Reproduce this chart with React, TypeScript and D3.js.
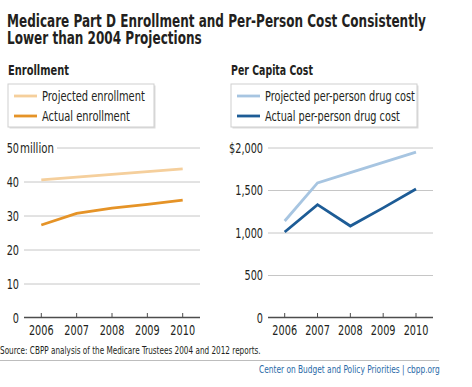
import { useLayoutEffect, useRef, useState } from "react";
import * as d3 from "d3";

const years = [2006, 2007, 2008, 2009, 2010];
const projectedEnrollment = [40.5, 41.3, 42.1, 42.9, 43.7];
const actualEnrollment = [27.2, 30.6, 32.2, 33.3, 34.5];
const projectedCost = [1135, 1584, 1704, 1824, 1945];
const actualCost = [1006, 1328, 1076, 1290, 1511];
const enrollTicks = [0, 10, 20, 30, 40, 50];
const costTicks = [0, 500, 1000, 1500, 2000];
const titleLines = [
  "Medicare Part D Enrollment and Per-Person Cost Consistently",
  "Lower than 2004 Projections",
];

const FONT = "'DejaVu Sans', sans-serif";
const INK = "#231f20";
const W = 472;
const H = 387;

// condensed text, squeezed horizontally by a fixed factor
function CText({ x, y, sx = 1, anchor = "start", size, bold = false, fill = INK, children }: any) {
  return (
    <g transform={`translate(${x},${y}) scale(${sx},1)`}>
      <text textAnchor={anchor} fontFamily={FONT} fontSize={size} fontWeight={bold ? "bold" : "normal"}
        fill={fill} style={{ fontStretch: "condensed" }}>
        {children}
      </text>
    </g>
  );
}

// condensed text squeezed to a measured width
function FitText({ x, y, w, size, bold = false, fill = INK, children }: any) {
  const ref = useRef<SVGTextElement>(null);
  const [sx, setSx] = useState(1);
  useLayoutEffect(() => {
    const len = ref.current?.getComputedTextLength() ?? 0;
    if (len > 0) setSx(w / len);
  }, [w, size]);
  return (
    <g transform={`translate(${x},${y}) scale(${sx},1)`}>
      <text ref={ref} fontFamily={FONT} fontSize={size} fontWeight={bold ? "bold" : "normal"} fill={fill}
        style={{ fontStretch: "condensed" }}>
        {children}
      </text>
    </g>
  );
}

function Title() {
  const ref = useRef<SVGTSpanElement>(null);
  const [sx, setSx] = useState(1);
  useLayoutEffect(() => {
    const len = ref.current?.getComputedTextLength() ?? 0;
    if (len > 0) setSx(419 / len);
  }, []);
  return (
    <g transform={`translate(7,27) scale(${sx},1)`}>
      <text fontFamily={FONT} fontSize={17.5} fontWeight="bold" fill={INK} style={{ fontStretch: "condensed" }}>
        <tspan ref={ref} x={0} y={0}>{titleLines[0]}</tspan>
        <tspan x={0} y={17.5}>{titleLines[1]}</tspan>
      </text>
    </g>
  );
}

interface PanelProps {
  gridLeft: number;
  gridRight: number;
  xFirst: number;
  xLast: number;
  labelX: number;
  yMax: number;
  ticks: number[];
  fmt: (d: number) => string;
  topGridStart: number;
  series: { values: number[]; color: string }[];
}

function Panel({ gridLeft, gridRight, xFirst, xLast, labelX, yMax, ticks, fmt, topGridStart, series }: PanelProps) {
  const x = d3.scalePoint<number>().domain(years).range([xFirst, xLast]);
  const y = d3.scaleLinear().domain([0, yMax]).range([317.5, 147.5]);
  const line = d3
    .line<number>()
    .x((_, i) => x(years[i])!)
    .y((d) => y(d));

  return (
    <g>
      {ticks.filter((t) => t !== 0).map((t) => (
        <line key={t} x1={t === yMax ? topGridStart : gridLeft} x2={gridRight}
          y1={y(t) + 0.5} y2={y(t) + 0.5} stroke="#c6c6c6" strokeWidth={1} />
      ))}
      {ticks.map((t) => (
        <CText key={"l" + t} x={labelX} y={y(t) + 5} sx={0.8} anchor="end" size={13.5}>
          {fmt(t)}
        </CText>
      ))}
      <line x1={gridLeft} x2={gridRight} y1={y(0)} y2={y(0)} stroke="#4d4d4d" strokeWidth={1.4} />
      {years.map((yr) => (
        <g key={yr}>
          <line x1={x(yr)} x2={x(yr)} y1={y(0) - 4.5} y2={y(0)} stroke="#4d4d4d" strokeWidth={1} />
          <CText x={x(yr)} y={y(0) + 17} sx={0.8} anchor="middle" size={13.5}>
            {yr}
          </CText>
        </g>
      ))}
      {series.map((s, i) => (
        <path key={i} d={line(s.values) ?? ""} fill="none" stroke={s.color} strokeWidth={2.8}
          strokeLinejoin="miter" />
      ))}
    </g>
  );
}

function Legend({ x, y, w, items }: { x: number; y: number; w: number; items: { label: string; color: string; tw: number }[] }) {
  return (
    <g>
      <rect x={x + 1.5} y={y + 1.5} width={w} height={43} fill="#dcdcdc" />
      <rect x={x} y={y} width={w} height={43} fill="#fff" stroke="#cfcfcf" strokeWidth={1} />
      {items.map((it, i) => (
        <g key={it.label}>
          <line x1={x + 6} x2={x + 29} y1={y + 12 + i * 20} y2={y + 12 + i * 20} stroke={it.color} strokeWidth={2.8} />
          <FitText x={x + 34} y={y + 16.5 + i * 20} w={it.tw} size={13.5}>
            {it.label}
          </FitText>
        </g>
      ))}
    </g>
  );
}

export default function App() {
  return (
    <svg width={W} height={H} style={{ position: "absolute", left: 0, top: 0, background: "#fff" }}>
      <rect width={W} height={H} fill="#fff" />
      <Title />
      <FitText x={8} y={75} w={61} size={13.5} bold>
        Enrollment
      </FitText>
      <FitText x={231} y={75} w={82} size={13.5} bold>
        Per Capita Cost
      </FitText>
      <Legend x={8} y={84} w={146} items={[
        { label: "Projected enrollment", color: "#f5cf9c", tw: 103 },
        { label: "Actual enrollment", color: "#e59327", tw: 88 },
      ]} />
      <Legend x={231} y={84} w={186} items={[
        { label: "Projected per-person drug cost", color: "#a7c5e1", tw: 150 },
        { label: "Actual per-person drug cost", color: "#1d5c96", tw: 135 },
      ]} />
      <Panel gridLeft={24} gridRight={200} xFirst={41.3} xLast={182.7} labelX={19} yMax={50}
        topGridStart={57} ticks={enrollTicks} fmt={(d) => String(d)}
        series={[
          { values: projectedEnrollment, color: "#f5cf9c" },
          { values: actualEnrollment, color: "#e59327" },
        ]} />
      <FitText x={20} y={152.5} w={34} size={13.5}>million</FitText>
      <Panel gridLeft={268} gridRight={433} xFirst={284.7} xLast={416} labelX={263} yMax={2000}
        topGridStart={268} ticks={costTicks} fmt={(d) => (d === 2000 ? "$" + d3.format(",")(d) : d3.format(",")(d))}
        series={[
          { values: projectedCost, color: "#a7c5e1" },
          { values: actualCost, color: "#1d5c96" },
        ]} />
      <FitText x={0} y={354} w={261} size={10}>
        Source: CBPP analysis of the Medicare Trustees 2004 and 2012 reports.
      </FitText>
      <line x1={0} x2={439} y1={360.5} y2={360.5} stroke="#bdbdbd" strokeWidth={1} />
      <FitText x={259} y={372.5} w={181} size={10.5} fill="#2a6aa8">
        Center on Budget and Policy Priorities | cbpp.org
      </FitText>
    </svg>
  );
}
